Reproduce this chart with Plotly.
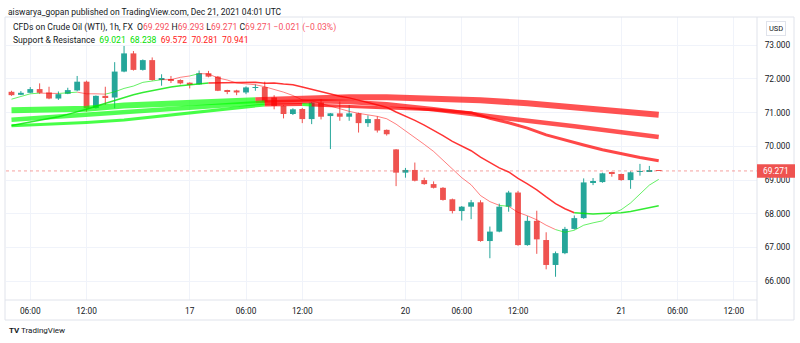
import plotly.graph_objects as go
import pandas as pd

# ---------------- data ----------------
session_starts = ["2021-12-16 04:00", "2021-12-16 23:00", "2021-12-19 23:00", "2021-12-20 23:00"]
session_ends = ["2021-12-16 21:00", "2021-12-17 21:00", "2021-12-20 21:00", "2021-12-21 04:00"]

opens = [71.62, 71.53, 71.59, 71.70, 71.60, 71.42, 71.56, 71.66, 71.92, 71.14,
         71.50, 71.45, 72.22, 72.76, 72.27, 72.56, 71.98, 72.00, 71.97, 71.89,
         71.84, 72.17, 72.07, 71.67, 71.66, 71.60, 71.74, 71.76, 71.45, 71.20,
         70.96, 71.11, 70.81, 71.30, 70.90, 70.98, 70.88, 70.98, 70.69, 70.81,
         70.49, 69.91, 69.22, 69.30, 69.00, 68.88, 68.77, 68.43, 68.08, 68.21,
         68.34, 67.19, 67.47, 68.21, 68.63, 67.07, 67.79, 67.22, 66.48, 66.83,
         67.55, 67.87, 68.92, 68.94, 69.21, 69.18, 69.00, 69.24, 69.25, 69.292]
highs = [71.65, 71.64, 71.76, 71.87, 71.77, 71.63, 71.74, 72.09, 71.95, 71.51,
         71.77, 72.50, 72.98, 72.83, 72.58, 72.64, 72.14, 72.09, 71.99, 71.90,
         72.25, 72.24, 72.09, 71.68, 71.68, 71.78, 71.84, 71.92, 71.52, 71.22,
         71.13, 71.14, 71.32, 71.40, 70.99, 71.33, 71.23, 71.00, 70.92, 70.89,
         70.50, 69.92, 69.36, 69.52, 69.07, 68.96, 68.79, 68.45, 68.23, 68.41,
         68.40, 67.62, 68.30, 68.68, 68.68, 67.93, 68.09, 67.45, 66.88, 67.61,
         67.95, 69.05, 69.06, 69.22, 69.25, 69.19, 69.26, 69.48, 69.42, 69.293]
lows = [71.50, 71.52, 71.58, 71.56, 71.40, 71.38, 71.55, 71.64, 71.03, 71.12,
        71.23, 71.13, 72.20, 72.25, 72.25, 71.95, 71.80, 71.88, 71.84, 71.72,
        71.83, 72.05, 71.64, 71.55, 71.52, 71.55, 71.65, 71.30, 71.10, 70.83,
        70.93, 70.69, 70.66, 70.80, 69.92, 70.76, 70.76, 70.41, 70.58, 70.41,
        70.32, 68.82, 69.07, 68.96, 68.86, 68.75, 68.39, 68.01, 67.80, 67.84,
        67.17, 66.68, 67.45, 68.06, 67.05, 67.05, 66.81, 66.35, 66.13, 66.80,
        67.53, 67.85, 68.85, 68.92, 69.10, 68.98, 68.74, 69.13, 69.24, 69.271]
closes = [71.52, 71.59, 71.70, 71.59, 71.42, 71.55, 71.67, 71.92, 71.13, 71.50,
          71.45, 72.22, 72.76, 72.27, 72.56, 71.97, 72.00, 71.94, 71.87, 71.84,
          72.17, 72.07, 71.65, 71.64, 71.60, 71.75, 71.76, 71.33, 71.20, 70.96,
          71.10, 70.81, 71.30, 70.88, 70.98, 70.88, 70.98, 70.69, 70.81, 70.47,
          70.36, 69.22, 69.30, 68.98, 68.88, 68.77, 68.41, 68.08, 68.21, 68.34,
          67.19, 67.47, 68.21, 68.63, 67.07, 67.79, 67.24, 66.48, 66.83, 67.55,
          67.87, 68.93, 68.95, 69.20, 69.19, 69.00, 69.23, 69.26, 69.29, 69.271]

# Support & Resistance lines
line1 = [71.40, 71.48, 71.56, 71.58, 71.57, 71.57, 71.58, 71.61, 71.56, 71.56,
         71.55, 71.62, 71.72, 71.79, 71.90, 71.95, 71.98, 71.98, 72.05, 72.09,
         72.16, 72.15, 72.03, 71.97, 71.88, 71.85, 71.83, 71.77, 71.70, 71.61,
         71.51, 71.38, 71.35, 71.27, 71.21, 71.12, 71.04, 70.98, 70.94, 70.89,
         70.82, 70.66, 70.46, 70.27, 70.06, 69.85, 69.59, 69.33, 69.07, 68.86,
         68.54, 68.36, 68.25, 68.22, 68.04, 67.94, 67.82, 67.66, 67.53, 67.45,
         67.51, 67.66, 67.73, 67.79, 68.00, 68.12, 68.32, 68.60, 68.85, 69.021]
line2 = [70.62, 70.67, 70.72, 70.77, 70.82, 70.88, 70.95, 71.02, 71.10, 71.19,
         71.28, 71.36, 71.45, 71.53, 71.60, 71.66, 71.71, 71.76, 71.80, 71.82,
         71.86, 71.88, 71.88, 71.88, 71.89, 71.90, 71.90, 71.87, 71.88, 71.85,
         71.83, 71.76, 71.69, 71.62, 71.54, 71.49, 71.44, 71.37, 71.32, 71.25,
         71.16, 71.02, 70.90, 70.77, 70.63, 70.48, 70.32, 70.15, 70.00, 69.87,
         69.68, 69.51, 69.36, 69.24, 69.05, 68.89, 68.71, 68.50, 68.30, 68.15,
         68.03, 68.01, 67.99, 68.01, 68.02, 68.03, 68.07, 68.13, 68.19, 68.238]
line3_idx = [0, 4, 8, 12, 16, 20, 24, 27, 30, 31, 32, 33, 36, 40, 45, 49, 51, 53, 55, 57, 59, 61, 63, 65, 67, 69]
line3 = [70.61, 70.65, 70.71, 70.78, 70.90, 71.01, 71.14, 71.23, 71.24, 71.24, 71.23, 71.22, 71.20, 71.16, 71.09,
         71.00, 70.83, 70.70, 70.54, 70.34, 70.18, 70.04, 69.90, 69.78, 69.67, 69.572]
line4_idx = [0, 4, 8, 12, 16, 20, 24, 26, 27, 30, 33, 36, 40, 45, 50, 55, 60, 65, 69]
line4 = [70.79, 70.87, 70.94, 71.02, 71.11, 71.19, 71.26, 71.29, 71.30, 71.33, 71.34, 71.32, 71.25, 71.10,
         70.92, 70.76, 70.60, 70.43, 70.281]
line5_idx = [0, 4, 8, 12, 16, 20, 24, 26, 27, 30, 33, 36, 40, 45, 50, 55, 60, 65, 69]
line5 = [71.07, 71.09, 71.12, 71.21, 71.27, 71.31, 71.35, 71.37, 71.38, 71.42, 71.45, 71.46, 71.46, 71.43,
         71.37, 71.28, 71.17, 71.05, 70.941]

tick_times = ["2021-12-16 06:00", "2021-12-16 12:00", "2021-12-17 00:00", "2021-12-17 06:00",
              "2021-12-17 12:00", "2021-12-20 00:00", "2021-12-20 06:00", "2021-12-20 12:00",
              "2021-12-21 00:00", "2021-12-21 06:00", "2021-12-21 12:00"]
tick_text = ["06:00", "12:00", "17", "06:00", "12:00", "20", "06:00", "12:00", "21", "06:00", "12:00"]
price_ticks = [66, 67, 68, 69, 70, 71, 72, 73]
last_price = 69.271

# ---------------- build ----------------
bar_times = []
for s, e in zip(session_starts, session_ends):
    bar_times += list(pd.date_range(s, e, freq="h"))
n = len(bar_times)
xs = list(range(n))
pos = {t: i for i, t in enumerate(bar_times)}
tick_vals = []
for t in tick_times:
    ts = pd.Timestamp(t)
    if ts in pos:
        tick_vals.append(pos[ts])
    else:
        tick_vals.append(n - 1 + int((ts - bar_times[-1]) / pd.Timedelta(hours=1)))

TEAL = "#26a69a"
RED = "#ef5350"
TXT = "#131722"
GRID = "#f0f3fa"
BORDER = "#e0e3eb"

# pixel geometry
W, H = 800, 343
PL, PR, PT, PB = 6, 757, 17, 300
BAR0, BARW = 11.5, 9.38
xr = [(PL - BAR0) / BARW, (PR - BAR0) / BARW]
yr = [65.44, 73.84]


def px_x(px):
    return (px - PL) / (PR - PL)


def px_y(py):
    return (PB - py) / (PB - PT)


fig = go.Figure()

# candles: bodies as bars, wicks as lines
for up, col in [(True, TEAL), (False, RED)]:
    sel = [i for i in xs if (closes[i] >= opens[i]) == up]
    wx, wy = [], []
    for i in sel:
        wx += [i, i, None]
        wy += [lows[i], highs[i], None]
    fig.add_trace(go.Scatter(x=wx, y=wy, mode="lines", line=dict(color=col, width=1),
                             hoverinfo="skip", showlegend=False))
    fig.add_trace(go.Bar(x=sel,
                         y=[max(abs(closes[i] - opens[i]), 0.02) for i in sel],
                         base=[min(opens[i], closes[i]) for i in sel],
                         width=0.62, marker=dict(color=col, line=dict(width=0)),
                         hoverinfo="skip", showlegend=False))


def add_line(idx_list, vals, width, red, green):
    cols = [green if closes[i] > v else red for i, v in zip(idx_list, vals)]
    runs = []
    for k in range(1, len(idx_list)):
        c = cols[k]
        if runs and runs[-1][0] == c:
            runs[-1][1].append(k)
        else:
            runs.append([c, [k - 1, k]])
    for c, pts in runs:
        fig.add_trace(go.Scatter(x=[idx_list[p] for p in pts], y=[vals[p] for p in pts],
                                 mode="lines", line=dict(color=c, width=width),
                                 hoverinfo="skip", showlegend=False))


add_line(line5_idx, line5, 6, "rgba(255,0,0,0.68)", "rgba(0,255,0,0.68)")
add_line(line4_idx, line4, 4.5, "rgba(255,0,0,0.68)", "rgba(0,255,0,0.68)")
add_line(line3_idx, line3, 3, "rgba(255,0,0,0.72)", "rgba(0,255,0,0.72)")
add_line(xs, line2, 1.5, "rgba(255,0,0,0.8)", "rgba(0,230,0,0.8)")
add_line(xs, line1, 1, "rgba(255,0,0,0.5)", "rgba(0,230,0,0.6)")

shapes = [
    # last price dotted line
    dict(type="line", xref="paper", yref="y", x0=0, x1=1, y0=last_price, y1=last_price,
         line=dict(color="rgba(239,83,80,0.55)", width=1, dash="dot")),
    # frame
    dict(type="rect", xref="paper", yref="paper", x0=px_x(5), x1=px_x(794), y0=px_y(17), y1=px_y(320),
         line=dict(color=BORDER, width=1)),
    dict(type="line", xref="paper", yref="paper", x0=1, x1=1, y0=px_y(17), y1=px_y(320),
         line=dict(color=BORDER, width=1)),
    dict(type="line", xref="paper", yref="paper", x0=px_x(5), x1=1, y0=0, y1=0,
         line=dict(color=BORDER, width=1)),
    # price label background
    dict(type="rect", xref="paper", yref="y", x0=1, x1=px_x(795), y0=last_price - 0.2, y1=last_price + 0.2,
         fillcolor=RED, line=dict(width=0)),
]

FONT = "Roboto"
annotations = [
    dict(xref="paper", yref="paper", x=px_x(6), y=px_y(12), xanchor="left", yanchor="middle",
         text="aiswarya_gopan published on TradingView.com, Dec 21, 2021 04:01 UTC",
         showarrow=False, font=dict(family=FONT, size=8.5, color=TXT)),
    dict(xref="paper", yref="paper", x=px_x(11), y=px_y(27), xanchor="left", yanchor="middle",
         text=("CFDs on Crude Oil (WTI), 1h, FX  O<span style='color:#f7525f'>69.292</span>"
               " H<span style='color:#f7525f'>69.293</span> L<span style='color:#f7525f'>69.271</span>"
               " C<span style='color:#f7525f'>69.271</span> <span style='color:#f7525f'>\u22120.021 (\u22120.03%)</span>"),
         showarrow=False, font=dict(family=FONT, size=8.6, color=TXT)),
    dict(xref="paper", yref="paper", x=px_x(11), y=px_y(40), xanchor="left", yanchor="middle",
         text=("Support &amp; Resistance  <span style='color:#00e000'>69.021</span>  "
               "<span style='color:#00e000'>68.238</span>  <span style='color:#ff2020'>69.572</span>  "
               "<span style='color:#ff2020'>70.281</span>  <span style='color:#ff2020'>70.941</span>"),
         showarrow=False, font=dict(family=FONT, size=8.6, color=TXT)),
    dict(xref="paper", yref="paper", x=px_x(776), y=px_y(28), xanchor="center", yanchor="middle",
         text="USD", showarrow=False, font=dict(family=FONT, size=7.5, color=TXT),
         bordercolor=BORDER, borderwidth=1, borderpad=2),
    dict(xref="paper", yref="y", x=px_x(776), y=last_price, xanchor="center", yanchor="middle",
         text="69.271", showarrow=False, font=dict(family=FONT, size=8.4, color="white")),
    dict(xref="paper", yref="paper", x=px_x(7), y=px_y(331), xanchor="left", yanchor="middle",
         text="<b>TV</b> TradingView", showarrow=False, font=dict(family=FONT, size=8, color=TXT)),
]

fig.update_layout(
    width=W, height=H, margin=dict(l=PL, r=W - PR, t=PT, b=H - PB),
    paper_bgcolor="white", plot_bgcolor="white", barmode="overlay", showlegend=False,
    shapes=shapes, annotations=annotations,
    xaxis=dict(range=xr, tickmode="array", tickvals=tick_vals, ticktext=tick_text,
               showgrid=True, gridcolor=GRID, gridwidth=1, zeroline=False,
               ticks="outside", ticklen=3, tickcolor="rgba(0,0,0,0)",
               tickfont=dict(family=FONT, size=8.3, color=TXT), fixedrange=True),
    yaxis=dict(range=yr, side="right", tickmode="array", tickvals=price_ticks,
               ticktext=[f"{v:.3f}" for v in price_ticks],
               showgrid=True, gridcolor=GRID, gridwidth=1, zeroline=False,
               ticks="outside", ticklen=5, tickcolor="rgba(0,0,0,0)",
               tickfont=dict(family=FONT, size=8.3, color=TXT), fixedrange=True),
)

fig.write_html("out.html")
